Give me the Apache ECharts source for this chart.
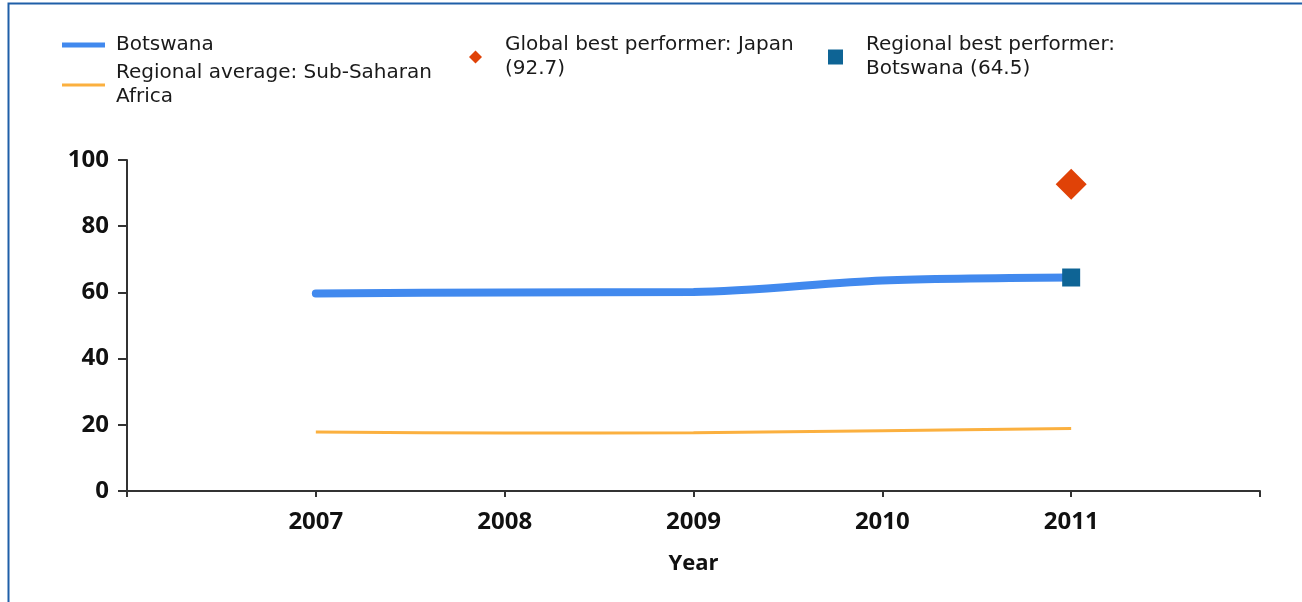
<!DOCTYPE html>
<html>
<head>
<meta charset="utf-8">
<script src="https://cdn.jsdelivr.net/npm/echarts@6/dist/echarts.min.js"></script>
<style>
html,body{margin:0;padding:0;background:#fff;}
#c{width:1302px;height:602px;}
</style>
</head>
<body>
<div id="c"></div>
<script>
var years = [2007, 2008, 2009, 2010, 2011];
var botswana = [59.7, 60.0, 60.1, 63.6, 64.5];
var regionalAvg = [17.8, 17.5, 17.6, 18.2, 18.9];
var globalBest = [[2011, 92.7]];
var regionalBest = [[2011, 64.5]];
var yTicks = [0, 20, 40, 60, 80, 100];

var FONT = 'Open Sans';
var LFONT = 'DejaVu Sans';
var names = {
  b: 'Botswana',
  r: 'Regional average: Sub-Saharan Africa',
  g: 'Global best performer: Japan (92.7)',
  rb: 'Regional best performer: Botswana (64.5)'
};
var labelText = {};
labelText[names.b] = 'Botswana';
labelText[names.r] = 'Regional average: Sub-Saharan\nAfrica';
labelText[names.g] = 'Global best performer: Japan\n(92.7)';
labelText[names.rb] = 'Regional best performer:\nBotswana (64.5)';

function pair(xs, ys) { return xs.map(function (x, i) { return [x, ys[i]]; }); }

function leg(name, left, top, icon, w, h, gap) {
  return {
    data: [name], left: left, top: top, icon: icon,
    itemWidth: w, itemHeight: h, itemGap: 0, padding: 0,
    selectedMode: false,
    formatter: function (n) { return labelText[n]; },
    textStyle: { fontFamily: LFONT, fontSize: 20, color: '#1a1a1a', lineHeight: 24, padding: [0, 0, 0, gap] }
  };
}

var chart = echarts.init(document.getElementById('c'), null, { renderer: 'canvas' });
chart.setOption({
  backgroundColor: '#fff',
  animation: false,
  graphic: [{
    type: 'rect', left: 6, top: 1, z: 100, silent: true,
    shape: { width: 1400, height: 700 },
    style: { fill: 'none', stroke: '#1f5fa8', lineWidth: 2 }
  }],
  legend: [
    leg(names.b, 62, 33, 'rect', 43, 5, 6),
    leg(names.r, 62, 61, 'rect', 43, 3, 6),
    leg(names.g, 469, 33, 'diamond', 13, 13, 18),
    leg(names.rb, 828, 33, 'rect', 15, 15, 18)
  ],
  grid: { left: 127, right: 42, top: 160, bottom: 111, containLabel: false },
  xAxis: {
    type: 'value', min: 2006, max: 2012, interval: 1,
    name: 'Year', nameLocation: 'middle', nameGap: 62,
    nameTextStyle: { fontFamily: FONT, fontSize: 22, fontWeight: 'bold', color: '#111' },
    axisLine: { show: true, onZero: false, lineStyle: { color: '#333', width: 2 } },
    axisTick: { show: true, length: 6, lineStyle: { color: '#333', width: 2 } },
    splitLine: { show: false },
    axisLabel: {
      margin: 19, fontFamily: FONT, fontSize: 24, fontWeight: 'bold', color: '#111',
      formatter: function (v) { return years.indexOf(v) >= 0 ? String(v) : ''; },
      showMinLabel: true, showMaxLabel: true
    }
  },
  yAxis: {
    type: 'value', min: yTicks[0], max: yTicks[yTicks.length - 1], interval: 20,
    axisLine: { show: true, lineStyle: { color: '#333', width: 2 } },
    axisTick: { show: true, length: 9, lineStyle: { color: '#333', width: 2 } },
    splitLine: { show: false },
    axisLabel: { margin: 18, fontFamily: FONT, fontSize: 24, fontWeight: 'bold', color: '#111' }
  },
  series: [
    {
      name: names.b, type: 'line', data: pair(years, botswana),
      showSymbol: false, symbol: 'none', smooth: 0.3,
      color: '#4189ee',
      lineStyle: { width: 8, color: '#4189ee', cap: 'round' }, z: 3
    },
    {
      name: names.r, type: 'line', data: pair(years, regionalAvg),
      showSymbol: false, symbol: 'none', smooth: 0.3,
      color: '#fbb03f',
      lineStyle: { width: 3, color: '#fbb03f' }, z: 2
    },
    {
      name: names.g, type: 'scatter', data: globalBest,
      symbol: 'diamond', symbolSize: 31,
      itemStyle: { color: '#e04207', opacity: 1 }, z: 5
    },
    {
      name: names.rb, type: 'scatter', data: regionalBest,
      symbol: 'rect', symbolSize: 18,
      itemStyle: { color: '#0e6495', opacity: 1 }, z: 5
    }
  ]
});
</script>
</body>
</html>
